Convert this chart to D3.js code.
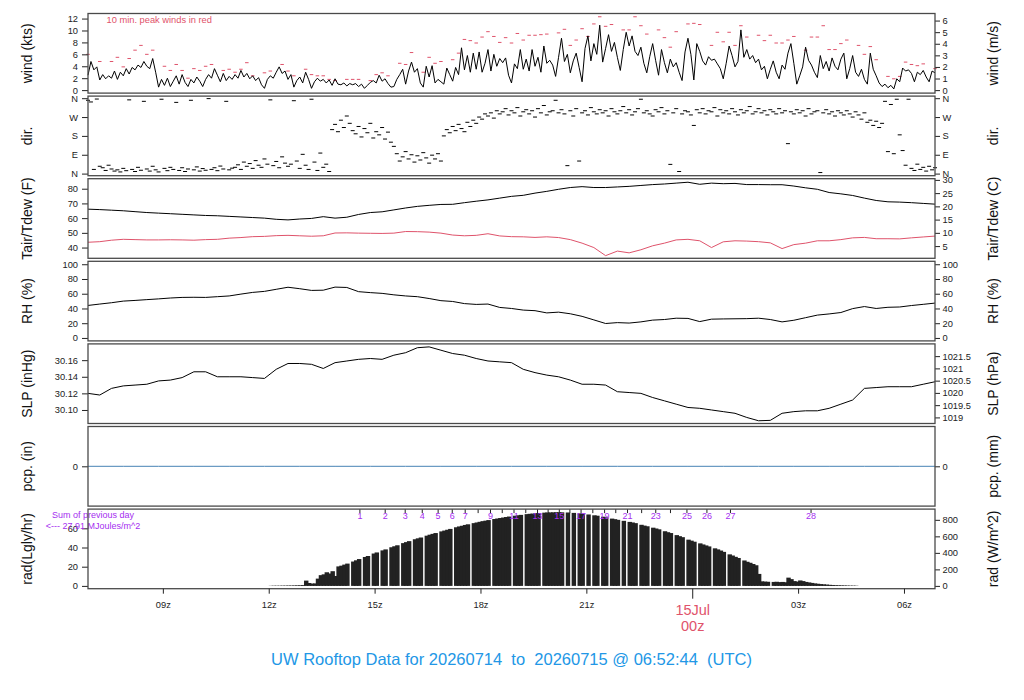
<!DOCTYPE html>
<html>
<head>
<meta charset="utf-8">
<script src="https://cdn.jsdelivr.net/npm/d3@7.8.5/dist/d3.min.js"></script>
<style>
  html, body { margin: 0; padding: 0; background: #fff; }
  svg { display: block; }
</style>
</head>
<body>
<svg id="chart" width="1024" height="700"></svg>
<script>
// ---- time frame ----
const startTime = Date.UTC(2026, 6, 14, 6, 52, 44);
const endTime = Date.UTC(2026, 6, 15, 6, 52, 44);
const radStart = Date.UTC(2026, 6, 14, 12, 0, 0);
const MIN = 60000;

// wind speed (kts), 5-min samples from startTime
const wind5 = [
  2.5, 4.8, 3.4, 3.9, 1.7, 2.6, 1.9, 2.4, 2.0, 3.2, 1.8, 3.0, 2.4, 3.6, 2.7, 3.8, 3.4, 4.2, 3.8, 4.8, 4.0, 3.6, 5.3, 3.0, 0.5,
  1.8, 0.8, 2.0, 0.6, 1.5, 2.4, 1.0, 2.6, 1.3, 0.6, 1.8, 1.2, 2.2, 1.5, 0.6, 1.8, 2.6, 2.0, 3.6, 2.5, 1.4, 2.8, 1.6, 2.3, 1.8, 2.6, 2.0, 3.3, 2.2, 2.8, 1.9,
  2.4, 1.6, 2.1, 0.9, 0.3, 1.8, 2.4, 2.0, 3.0, 3.9, 2.8, 3.2, 1.8, 2.6, 0.5, 1.6, 2.2,
  1.2, 3.0, 1.8, 0.3, 1.4, 2.0, 1.5, 1.8, 1.2, 1.7, 0.8, 1.9, 1.0, 0.9, 1.2, 0.7, 1.1, 0.9,
  1.1, 0.6, 1.0, 0.3, 0.8, 1.3, 1.6, 1.2, 2.5, 1.5, 1.9, 1.1, 0.5, 0.6, 1.8, 2.6,
  3.5, 1.0, 3.2, 4.7, 3.0, 3.6, 1.2, 0.5, 4.0, 2.2, 4.1, 1.2, 1.8, 1.4, 1.0, 3.7, 2.6,
  1.5, 3.8, 2.6, 7.1, 3.4, 5.8, 3.0, 6.2, 3.5, 6.4, 3.0, 4.5, 6.8, 3.2, 6.0, 4.0, 5.3,
  4.6, 5.4, 2.5, 1.2, 4.4, 3.6, 6.8, 3.5, 5.2, 3.2, 6.8, 4.0, 5.5, 3.0, 7.4, 4.5, 5.0,
  4.2, 2.3, 5.5, 8.7, 4.8, 6.0, 2.9, 4.9, 6.2, 3.8, 1.4, 7.0, 9.1, 4.9, 7.8, 6.0, 10.9,
  4.7, 7.0, 9.3, 6.5, 8.0, 5.5, 3.3, 6.8, 9.7, 7.4, 9.1, 6.5, 5.8, 7.2, 4.5, 2.9, 5.6,
  7.8, 5.0, 2.5, 6.8, 4.6, 2.9, 5.2, 3.9, 4.6, 3.0, 1.6, 6.4, 8.7, 6.0, 1.7, 7.8, 6.5,
  4.9, 4.2, 5.6, 5.0, 5.2, 4.4, 3.6, 1.9, 4.5, 7.4, 5.8, 3.9, 4.8, 10.1, 5.5, 6.8, 5.2,
  5.8, 4.6, 5.2, 3.4, 4.0, 1.9, 3.5, 4.9, 3.0, 1.9, 4.2, 3.5, 6.2, 7.8, 4.5, 1.0, 2.4,
  3.9, 7.2, 5.0, 4.2, 3.0, 2.1, 5.8, 3.6, 4.8, 3.2, 5.4, 4.0, 3.4, 5.2, 6.2, 1.9, 3.6,
  5.8, 3.0, 2.3, 3.5, 1.8, 1.0, 6.2, 3.5, 2.4, 1.2, 0.6, 1.0, 0.4, 0.8, 0.2, 1.9, 1.4,
  3.7, 3.2, 3.4, 2.8, 1.4, 3.0, 2.6, 3.3, 2.2, 1.4, 3.2, 2.9
];

// 10-min peak wind (kts), 10-min samples from startTime
const peak10 = [
  6.0, null, 4.8, null, 4.8, 5.5, 3.9, 5.3, 6.7, 7.5,
  6.0, 6.7, null, 4.0, 3.3, 4.3, 3.3, 2.0, 3.6, 3.3,
  4.0, 4.3, null, 3.3, 3.5, 3.0, 3.5, 4.6, 2.4, null,
  2.9, 3.2, null, 4.3, 3.2, 2.4, null, 3.5, 2.6, 2.4,
  2.4, 1.8, 1.6, null, 1.8, 1.8, 1.8, null, 1.6, 2.6,
  2.9, 2.4, null, 4.5, 4.3, 6.3, null, 3.0, 5.5, 4.5,
  4.8, null, 5.1, 6.2, 8.5, 8.3, 7.9, 8.9, 9.8, 9.0,
  8.0, 8.8, 7.9, 9.5, 8.4, 9.2, 9.2, 9.3, 9.4, null,
  9.6, 10.2, 7.5, 8.4, 10.3, 9.0, 11.1, 12.3, 10.7, 11.0,
  null, 10.1, 10.1, 12.3, 10.8, 9.4, null, 10.1, 8.8, 7.2,
  9.8, null, 11.1, 11.2, 11.0, null, 7.5, 9.7, 8.1, 9.7,
  7.5, 10.8, 8.9, null, 9.2, 8.3, 9.2, 7.9, 7.9, 8.4,
  9.0, null, 6.7, 8.9, 8.9, 10.8, 6.8, 6.8, 7.8, 8.4,
  null, 7.5, 6.0, 7.3, 5.1, null, 2.3, 1.9, 2.3, 4.7,
  4.3, 4.1, 4.4, null, 3.6
];

// wind direction (deg), 5-min samples from startTime
const dir5 = [
  350, 342, 20, 356, 35, 28, 15, 40, 22, 12,
  18, 8, 25, 14, 352, 20, 10, 30, 16, 345,
  22, 12, 35, 18, 8, 355, 25, 14, 30, 20,
  340, 15, 28, 10, 22, 350, 18, 32, 12, 24,
  16, 358, 20, 28, 14, 36, 22, 345, 18, 26,
  30, 42, 20, 55, 35, 48, 25, 62, 40, 30,
  70, 45, 352, 38, 58, 28, 80, 50, 35, 45,
  348, 60, 25, 92, 40, 20, 355, 55, 15, 98,
  30, 45, 10, 210, 235, 200, 255, 220, 275, 240,
  205, 190, 225, 175, 215, 195, 240, 170, 200, 185,
  220, 165, 198, 150, 130, 95, 60, 80, 105, 70,
  90, 55, 85, 65, 100, 75, 50, 88, 70, 95,
  60, 180, 210, 195, 225, 205, 235, 215, 200, 245,
  225, 255, 240, 270, 260, 285, 275, 290, 265, 300,
  285, 295, 310, 280, 300, 290, 315, 275, 295, 305,
  285, 300, 270, 310, 290, 325, 280, 295, 300, 350,
  290, 305, 285, 38, 300, 275, 310, 60, 290, 300,
  280, 315, 295, 285, 305, 290, 300, 275, 310, 295,
  285, 300, 320, 290, 305, 280, 295, 310, 355, 290,
  300, 285, 275, 305, 295, 315, 285, 300, 44, 290,
  310, 10, 285, 300, 295, 280, 230, 305, 290, 310,
  285, 300, 295, 315, 275, 305, 290, 300, 285, 310,
  295, 280, 305, 290, 300, 320, 285, 295, 310, 290,
  300, 280, 305, 295, 285, 310, 290, 300, 143, 295,
  285, 305, 290, 300, 275, 310, 285, 295, 300, 5,
  290, 305, 285, 295, 275, 300, 290, 280, 300, 285,
  270, 295, 280, 260, 290, 245, 255, 230, 250, 220,
  240, 345, 105, 330, 95, 355, 185, 110, 40, 355,
  25, 15, 45, 20, 30, 12, 35, 18, 28
];

// air temperature and dew point (F), relative humidity (%), SLP (inHg): 20-min samples
const tair20 = [
  66.1, 65.8, 65.4, 65.0, 64.4, 63.8, 63.4, 63.0, 62.6, 62.2,
  61.8, 61.6, 61.2, 60.8, 60.4, 60.0, 59.2, 58.8, 59.4, 59.8,
  61.0, 60.0, 60.6, 62.5, 63.8, 64.3, 65.6, 66.9, 68.0, 68.7,
  69.3, 69.4, 70.5, 71.5, 72.4, 73.6, 74.8, 75.5, 77.0, 78.2,
  79.6, 80.8, 81.4, 80.8, 80.8, 81.2, 81.6, 82.2, 82.8, 83.2,
  83.8, 84.4, 83.0, 83.8, 83.4, 83.6, 82.8, 82.8, 82.7, 82.7,
  81.8, 80.6, 79.6, 77.4, 76.5, 75.4, 73.6, 72.0, 71.1, 70.9,
  70.5, 70.0, 69.5
];
const tdew20 = [
  43.6, 44.0, 45.0, 45.6, 45.4, 45.2, 45.2, 45.3, 45.2, 45.0,
  45.4, 45.6, 46.4, 46.8, 47.4, 47.6, 48.1, 48.3, 48.0, 47.7,
  48.0, 49.9, 50.0, 49.8, 49.7, 49.6, 49.8, 50.9, 50.8, 50.5,
  49.8, 48.5, 48.0, 48.3, 49.4, 47.9, 47.4, 47.3, 46.9, 47.3,
  46.8, 45.4, 43.0, 40.0, 34.5, 37.6, 36.4, 38.5, 41.2, 43.0,
  45.2, 45.6, 44.6, 40.0, 43.9, 44.6, 44.4, 44.0, 43.2, 39.3,
  42.0, 43.0, 44.6, 44.6, 45.4, 46.6, 46.9, 46.0, 46.0, 45.9,
  46.6, 47.2, 47.8
];
const rh20 = [
  44.1, 46.0, 47.8, 50.0, 50.9, 52.0, 53.0, 54.2, 55.0, 55.2,
  55.0, 56.0, 57.0, 59.5, 61.8, 63.2, 66.0, 68.8, 66.8, 64.5,
  64.8, 69.0, 68.5, 62.8, 61.5, 60.5, 58.5, 57.0, 56.0, 53.5,
  50.6, 49.5, 46.6, 45.5, 46.0, 41.4, 40.0, 37.8, 37.0, 34.0,
  35.0, 32.8, 29.3, 24.5, 19.6, 20.8, 20.2, 21.8, 24.2, 25.0,
  26.8, 26.5, 22.2, 25.5, 25.8, 26.0, 26.2, 26.8, 25.0, 21.8,
  24.0, 27.5, 31.0, 32.6, 34.5, 39.8, 42.6, 40.0, 41.6, 42.0,
  44.0, 45.6, 47.3
];
const slp20 = [
  30.120, 30.118, 30.126, 30.129, 30.130, 30.131, 30.135, 30.136, 30.139, 30.146,
  30.146, 30.140, 30.140, 30.140, 30.139, 30.138, 30.149, 30.156, 30.156, 30.155,
  30.150, 30.157, 30.159, 30.161, 30.162, 30.161, 30.166, 30.169, 30.175, 30.176,
  30.172, 30.168, 30.166, 30.162, 30.159, 30.158, 30.157, 30.149, 30.145, 30.142,
  30.140, 30.136, 30.131, 30.131, 30.130, 30.122, 30.121, 30.120, 30.115, 30.111,
  30.107, 30.103, 30.102, 30.100, 30.098, 30.096, 30.091, 30.087, 30.0875, 30.096,
  30.098, 30.099, 30.099, 30.102, 30.107, 30.112, 30.126, 30.127, 30.128, 30.128,
  30.128, 30.131, 30.134
];

// precipitation (in), hourly
const pcpHourly = [0, 0, 0, 0, 0, 0, 0, 0, 0, 0, 0, 0, 0, 0, 0, 0, 0, 0, 0, 0, 0, 0, 0, 0, 0];

// solar radiation (W/m^2), 5-min samples from 12:00z; null = missing
const rad5 = [
  2, 3, 3, 3, 4, 4, 5, 5, 6, 7, 8, 10,
  64, 35, 28, 30, 88, 130, 140, 165, 150, 178, 120, 236,
  245, 258, 270, null, 295, 310, 325, null, 350, 362, null, 392,
  405, null, 430, 442, null, 468, 480, 492, null, 518, 530, 542,
  null, 565, 576, 586, null, 608, 620, 630, 640, null, 660, 670,
  680, 690, null, 710, 720, 728, 738, 746, null, 760, 768, 776,
  784, 790, 797, null, 810, 816, 822, 828, 834, 840, null, 850,
  855, 860, null, 869, 873, 876, 880, 883, null, 887, 889, 890,
  891, 892, 892, 891, null, 889, null, 884, null, 878, 874, null,
  865, null, 855, 850, null, 838, 830, null, 815, 808, 800, null,
  788, null, 775, 768, 760, null, 740, 730, 722, null, 705, 695,
  685, null, 662, 650, 640, null, 615, 602, 590, null, 560, 548,
  535, null, 515, 502, 490, 478, null, 455, 442, 428, 412, null,
  382, 368, 352, 338, null, 308, 292, 280, 265, 250, 145, 55,
  52, 50, null, 48, 50, 46, 48, 44, 100, 82, 58, 52,
  66, 58, 48, 42, 36, 30, 26, 22, 19, 16, 13, 11,
  9, 8, 7, 6, 5, 4, 4, 3
];

// times at which the running radiation total passes each MJ/m^2
const radMarkTimes = [
  '2026-07-14T14:35Z', '2026-07-14T15:18Z', '2026-07-14T15:52Z', '2026-07-14T16:21Z',
  '2026-07-14T16:48Z', '2026-07-14T17:12Z', '2026-07-14T17:34Z', '2026-07-14T17:56Z',
  '2026-07-14T18:17Z', '2026-07-14T18:37Z', '2026-07-14T18:57Z', '2026-07-14T19:17Z',
  '2026-07-14T19:37Z', '2026-07-14T19:55Z', '2026-07-14T20:14Z', '2026-07-14T20:32Z',
  '2026-07-14T20:51Z', '2026-07-14T21:11Z', '2026-07-14T21:31Z', '2026-07-14T21:50Z',
  '2026-07-14T22:10Z', '2026-07-14T22:34Z', '2026-07-14T22:58Z', '2026-07-14T23:23Z',
  '2026-07-14T23:51Z', '2026-07-15T00:25Z', '2026-07-15T01:05Z', '2026-07-15T03:22Z'
];
const radMarkShown = [1, 2, 3, 4, 5, 6, 7, 9, 11, 13, 15, 17, 19, 21, 23, 25, 26, 27, 28];
const prevDaySum = '27.91';

// axis ticks
const windTicks = [0, 2, 4, 6, 8, 10, 12];
const windMsTicks = [0, 1, 2, 3, 4, 5, 6];
const dirTicks = [0, 90, 180, 270, 360];
const dirTickLabels = ['N', 'E', 'S', 'W', 'N'];
const tempFTicks = [40, 50, 60, 70, 80];
const tempCTicks = [5, 10, 15, 20, 25, 30];
const rhTicks = [0, 20, 40, 60, 80, 100];
const slpTicks = [30.10, 30.12, 30.14, 30.16];
const hpaTicks = [1019, 1019.5, 1020, 1020.5, 1021, 1021.5];
const lyTicks = [0, 20, 40, 60];
const wm2Ticks = [0, 200, 400, 600, 800];

// ---- layout ----
const FONT = "'Liberation Sans', Arial, Helvetica, sans-serif";
const RED = '#DF536B';
const PURPLE = '#A52EF0';
const plotLeft = 88, plotRight = 935;
const panelTop = 13.5, panelH = 79.6, panelGap = 3;

const svg = d3.select('#chart').attr('font-family', FONT);
const x = d3.scaleUtc().domain([new Date(startTime), new Date(endTime)]).range([plotLeft, plotRight]);

const series = (values, t0, stepMin) => values.map((v, i) => ({ t: new Date(t0 + i * stepMin * MIN), v }));

function makePanel(index, domain) {
    const top = panelTop + index * (panelH + panelGap);
    const bottom = top + panelH;
    const y = d3.scaleLinear().domain(domain).range([bottom, top]);
    const g = svg.append('g').attr('class', 'panel');
    return { top, bottom, y, g };
}

function addAxis(p, side, scale, ticks, fmt) {
    const left = side === 'left';
    const axis = (left ? d3.axisLeft(scale) : d3.axisRight(scale))
        .tickValues(ticks)
        .tickFormat(fmt)
        .tickSize(left ? 6 : 5)
        .tickPadding(left ? 4 : 2.5);
    const ax = p.g.append('g')
        .attr('transform', `translate(${left ? plotLeft : plotRight},0)`)
        .call(axis);
    ax.select('.domain').remove();
    ax.attr('font-family', FONT).attr('font-size', 9.3);
    ax.selectAll('.tick line').attr('stroke', '#222');
    ax.selectAll('.tick text').attr('fill', '#222');
}

function addTitles(p, leftText, rightText) {
    const cy = (p.top + p.bottom) / 2;
    [[31.5, leftText], [997.5, rightText]].forEach(([tx, label]) => {
        p.g.append('text')
            .attr('transform', `translate(${tx},${cy}) rotate(-90)`)
            .attr('text-anchor', 'middle')
            .attr('fill', '#111')
            .style('font-size', '14px')
            .text(label);
    });
}

function addBox(p) {
    p.g.append('rect')
        .attr('x', plotLeft)
        .attr('y', p.top)
        .attr('width', plotRight - plotLeft)
        .attr('height', p.bottom - p.top)
        .attr('fill', 'none')
        .attr('stroke', '#4a4a4a')
        .attr('stroke-width', 1.3);
}

function addLine(p, data, color) {
    const line = d3.line()
        .defined(d => d.v != null)
        .x(d => x(d.t))
        .y(d => p.y(d.v));
    p.g.append('path')
        .datum(data)
        .attr('d', line)
        .attr('fill', 'none')
        .attr('stroke', color)
        .attr('stroke-width', 1)
        .attr('stroke-linejoin', 'round');
}

function addDashes(p, data, color, len) {
    p.g.append('g')
        .selectAll('line')
        .data(data.filter(d => d.v != null))
        .join('line')
        .attr('x1', d => x(d.t) - len / 2)
        .attr('x2', d => x(d.t) + len / 2)
        .attr('y1', d => p.y(d.v))
        .attr('y2', d => p.y(d.v))
        .attr('stroke', color)
        .attr('stroke-width', 1);
}

const KTS_PER_MS = 1.94384;
const HPA_PER_INHG = 33.8639;
const WM2_PER_LY = 11.622;

// ---- wind speed ----
const pWind = makePanel(0, [-0.5, 12.85]);
addDashes(pWind, series(peak10, startTime, 10), RED, 3.5);
addLine(pWind, series(wind5, startTime, 5), '#000');
pWind.g.append('text')
    .attr('x', 106.5)
    .attr('y', 22.5)
    .attr('fill', RED)
    .style('font-size', '9.3px')
    .text('10 min. peak winds in red');
addAxis(pWind, 'left', pWind.y, windTicks, d3.format('d'));
const yMs = d3.scaleLinear().domain(pWind.y.domain().map(v => v / KTS_PER_MS)).range(pWind.y.range());
addAxis(pWind, 'right', yMs, windMsTicks, d3.format('d'));
addTitles(pWind, 'wind (kts)', 'wind (m/s)');
addBox(pWind);

// ---- wind direction ----
const pDir = makePanel(1, [-10, 370]);
addDashes(pDir, series(dir5, startTime, 5), '#000', 4);
const dirFmt = d => dirTickLabels[dirTicks.indexOf(d)];
addAxis(pDir, 'left', pDir.y, dirTicks, dirFmt);
addAxis(pDir, 'right', pDir.y, dirTicks, dirFmt);
addTitles(pDir, 'dir.', 'dir.');
addBox(pDir);

// ---- temperature / dew point ----
const pTemp = makePanel(2, [32.7, 86.8]);
addLine(pTemp, series(tair20, startTime, 20), '#000');
addLine(pTemp, series(tdew20, startTime, 20), RED);
addAxis(pTemp, 'left', pTemp.y, tempFTicks, d3.format('d'));
const yC = d3.scaleLinear().domain(pTemp.y.domain().map(f => (f - 32) / 1.8)).range(pTemp.y.range());
addAxis(pTemp, 'right', yC, tempCTicks, d3.format('d'));
addTitles(pTemp, 'Tair/Tdew (F)', 'Tair/Tdew (C)');
addBox(pTemp);

// ---- relative humidity ----
const pRh = makePanel(3, [-4, 104]);
addLine(pRh, series(rh20, startTime, 20), '#000');
addAxis(pRh, 'left', pRh.y, rhTicks, d3.format('d'));
addAxis(pRh, 'right', pRh.y, rhTicks, d3.format('d'));
addTitles(pRh, 'RH (%)', 'RH (%)');
addBox(pRh);

// ---- sea level pressure ----
const pSlp = makePanel(4, [30.0837, 30.1796]);
addLine(pSlp, series(slp20, startTime, 20), '#000');
addAxis(pSlp, 'left', pSlp.y, slpTicks, d3.format('.2f'));
const yHpa = d3.scaleLinear().domain(pSlp.y.domain().map(v => v * HPA_PER_INHG)).range(pSlp.y.range());
addAxis(pSlp, 'right', yHpa, hpaTicks, d => String(d));
addTitles(pSlp, 'SLP (inHg)', 'SLP (hPa)');
addBox(pSlp);

// ---- precipitation ----
const pPcp = makePanel(5, [-1, 1]);
addLine(pPcp, series(pcpHourly, startTime, 60), '#4682B4');
addAxis(pPcp, 'left', pPcp.y, [0], d3.format('d'));
const yMm = d3.scaleLinear().domain(pPcp.y.domain().map(v => v * 25.4)).range(pPcp.y.range());
addAxis(pPcp, 'right', yMm, [0], d3.format('d'));
addTitles(pPcp, 'pcp. (in)', 'pcp. (mm)');
addBox(pPcp);

// ---- solar radiation ----
const pRad = makePanel(6, [-34, 930]);
const radData = series(rad5, radStart, 5);
const radStepPx = x(new Date(radStart + 5 * MIN)) - x(new Date(radStart));
pRad.g.append('g')
    .selectAll('rect')
    .data(radData.filter(d => d.v != null))
    .join('rect')
    .attr('x', d => x(d.t))
    .attr('width', radStepPx * 1.5)
    .attr('y', d => pRad.y(d.v))
    .attr('height', d => pRad.y(0) - pRad.y(d.v))
    .attr('fill', '#222');

// cumulative MJ marks along the top of the panel
const marks = radMarkTimes.map((s, i) => ({ t: new Date(s), n: i + 1 }));
pRad.g.append('g')
    .selectAll('line')
    .data(marks)
    .join('line')
    .attr('x1', d => x(d.t))
    .attr('x2', d => x(d.t))
    .attr('y1', pRad.top)
    .attr('y2', pRad.top + 4)
    .attr('stroke', '#222');
pRad.g.append('g')
    .selectAll('text')
    .data(marks.filter(d => radMarkShown.includes(d.n)))
    .join('text')
    .attr('x', d => x(d.t))
    .attr('y', pRad.top + 9.5)
    .attr('text-anchor', 'middle')
    .attr('fill', PURPLE)
    .style('font-size', '9px')
    .text(d => d.n);

const yLy = d3.scaleLinear().domain(pRad.y.domain().map(v => v / WM2_PER_LY)).range(pRad.y.range());
addAxis(pRad, 'left', yLy, lyTicks, d3.format('d'));
addAxis(pRad, 'right', pRad.y, wm2Ticks, d3.format('d'));
addTitles(pRad, 'rad(Lgly/hr)', 'rad (W/m^2)');

[['Sum of previous day', pRad.top + 8.5], [`<--- ${prevDaySum} MJoules/m^2`, pRad.top + 19.5]].forEach(([label, ty]) => {
    pRad.g.append('text')
        .attr('x', 93)
        .attr('y', ty)
        .attr('text-anchor', 'middle')
        .attr('fill', PURPLE)
        .style('font-size', '9px')
        .style('white-space', 'pre')
        .text(label);
});
addBox(pRad);

// ---- time axis ----
const xAxis = d3.axisBottom(x)
    .ticks(d3.utcHour.every(3))
    .tickFormat(d3.utcFormat('%Hz'))
    .tickSize(5)
    .tickPadding(8);
const xg = svg.append('g')
    .attr('transform', `translate(0,${pRad.bottom})`)
    .call(xAxis);
xg.select('.domain').remove();
xg.attr('font-family', FONT).attr('font-size', 9.3);
xg.selectAll('.tick line').attr('stroke', '#222');
xg.selectAll('.tick text').attr('fill', '#222');

xg.selectAll('.tick')
    .filter(d => d.getUTCHours() === 0)
    .each(function(d) {
        const tick = d3.select(this);
        tick.select('line').attr('y2', 10);
        tick.select('text').remove();
        tick.append('text')
            .attr('y', 26)
            .attr('text-anchor', 'middle')
            .attr('fill', RED)
            .style('font-size', '14.5px')
            .text(d3.utcFormat('%d%b')(d));
        tick.append('text')
            .attr('y', 42)
            .attr('text-anchor', 'middle')
            .attr('fill', RED)
            .style('font-size', '14.5px')
            .text(d3.utcFormat('%Hz')(d));
    });

// ---- title ----
const fmtDay = d3.utcFormat('%Y%m%d');
const fmtTime = d3.utcFormat('%H:%M:%S');
svg.append('text')
    .attr('x', 511.5)
    .attr('y', 665)
    .attr('text-anchor', 'middle')
    .attr('fill', '#2297E6')
    .attr('xml:space', 'preserve')
    .style('white-space', 'pre')
    .style('font-size', '16.5px')
    .text(`UW Rooftop Data for ${fmtDay(new Date(startTime))}  to  ${fmtDay(new Date(endTime))} @ ${fmtTime(new Date(endTime))}  (UTC)`);
</script>
</body>
</html>
